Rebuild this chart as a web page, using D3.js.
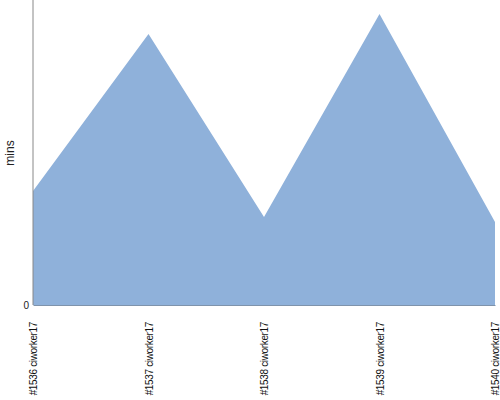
<!DOCTYPE html>
<html>
<head>
<meta charset="utf-8">
<script src="https://cdn.jsdelivr.net/npm/d3@7"></script>
<style>
  body { margin: 0; background: #fff; }
  text { font-family: "Liberation Sans", Arial, sans-serif; }
</style>
</head>
<body>
<svg id="chart" width="500" height="400"></svg>
<script>
const builds = ["#1536 ciworker17", "#1537 ciworker17", "#1538 ciworker17", "#1539 ciworker17", "#1540 ciworker17"];
const durations = [114, 271, 88, 291, 83];
const yTicks = [0];

const margin = { top: 0, right: 5, bottom: 95, left: 33 };
const width = 500, height = 400;

const svg = d3.select("#chart");

const x = d3.scalePoint()
    .domain(builds)
    .range([margin.left, width - margin.right]);

const y = d3.scaleLinear()
    .domain([0, 305])
    .range([height - margin.bottom, margin.top]);

const area = d3.area()
    .x((d, i) => x(builds[i]))
    .y0(y(0))
    .y1((d) => y(d));

svg.append("path")
    .datum(durations)
    .attr("fill", "#8fb1da")
    .attr("d", area);

// y axis
let yAxis = svg.append("g")
    .attr("transform", `translate(${margin.left},0)`)
    .call(d3.axisLeft(y).tickValues(yTicks).tickSize(0).tickPadding(4));
yAxis.select(".domain").attr("stroke", "#888").attr("d", `M0,${y(0)}V0`);
yAxis.selectAll("text").style("font-size", "10px").attr("fill", "#222");

// x axis
let xAxis = svg.append("g")
    .attr("transform", `translate(0,${y(0)})`)
    .call(d3.axisBottom(x).tickSize(0));
xAxis.select(".domain").attr("stroke", "#7f93ab");
xAxis.selectAll("text")
    .style("font-size", "10px")
    .style("letter-spacing", "-0.35px")
    .attr("fill", "#111")
    .attr("text-anchor", "end")
    .attr("transform", "rotate(-90)")
    .attr("x", -17)
    .attr("y", 0)
    .attr("dy", "0.35em");

svg.append("text")
    .attr("transform", `translate(14,153) rotate(-90)`)
    .attr("text-anchor", "middle")
    .style("font-size", "12px")
    .attr("fill", "#222")
    .text("mins");
</script>
</body>
</html>
